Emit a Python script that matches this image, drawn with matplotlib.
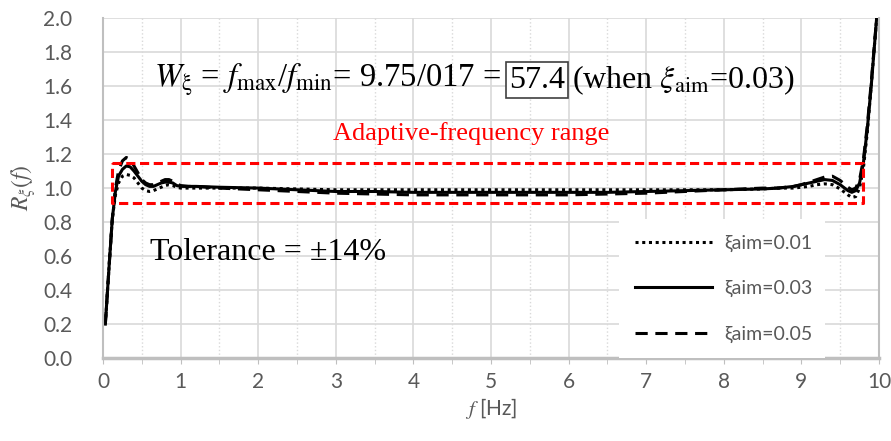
import matplotlib
import matplotlib.pyplot as plt
import numpy as np
from matplotlib.ticker import MultipleLocator

# ========== datos ==========
freq = [0.03, 0.08, 0.12, 0.16, 0.2, 0.25, 0.3, 0.35, 0.4, 0.45, 0.5, 0.55, 0.6, 0.65, 0.7,
        0.75, 0.8, 0.85, 0.9, 0.95, 1.0, 1.1, 1.2, 1.5, 2.0, 2.5, 3.0, 3.5, 4.0, 4.5,
        5.0, 5.5, 6.0, 6.5, 7.0, 7.5, 8.0, 8.5, 8.7, 8.9, 9.0, 9.1, 9.2, 9.3, 9.4,
        9.5, 9.6, 9.65, 9.7, 9.75, 9.8, 9.85, 9.9, 9.97]

r_001 = [0.2, 0.55, 0.82, 0.96, 1.03, 1.07, 1.08, 1.075, 1.06, 1.03, 1.0, 0.985, 0.98, 0.985, 0.995,
         1.005, 1.015, 1.02, 1.015, 1.005, 1.0, 1.0, 1.0, 1.0, 1.0, 0.995, 0.99, 0.99, 0.99, 0.99,
         0.99, 0.99, 0.99, 0.99, 0.99, 0.99, 0.99, 0.995, 1.0, 1.0, 1.005, 1.01, 1.02, 1.025, 1.02,
         0.995, 0.96, 0.945, 0.95, 1.0, 1.12, 1.33, 1.6, 2.0]
r_003 = [0.2, 0.55, 0.82, 0.98, 1.07, 1.11, 1.13, 1.125, 1.1, 1.07, 1.04, 1.02, 1.01, 1.01, 1.02,
         1.03, 1.035, 1.035, 1.03, 1.015, 1.01, 1.01, 1.01, 1.005, 1.0, 0.99, 0.98, 0.98, 0.975, 0.975,
         0.975, 0.975, 0.975, 0.975, 0.98, 0.985, 0.99, 0.995, 1.0, 1.01, 1.02, 1.03, 1.04, 1.05, 1.045,
         1.02, 0.985, 0.975, 0.985, 1.03, 1.15, 1.35, 1.6, 2.0]
r_005 = [0.2, 0.55, 0.82, 1.0, 1.1, 1.16, 1.18, 1.17, 1.13, 1.09, 1.05, 1.03, 1.02, 1.02, 1.03,
         1.04, 1.05, 1.05, 1.04, 1.025, 1.015, 1.01, 1.01, 1.0, 0.99, 0.98, 0.97, 0.965, 0.96, 0.96,
         0.96, 0.96, 0.96, 0.965, 0.97, 0.98, 0.99, 1.0, 1.0, 1.01, 1.02, 1.035, 1.05, 1.065, 1.07,
         1.045, 1.005, 0.99, 1.0, 1.05, 1.17, 1.37, 1.62, 2.0]

labels = ['ξaim=0.01', 'ξaim=0.03', 'ξaim=0.05']

# rango adaptativo (caja roja)
range_f = [0.12, 9.8]
range_r = [0.91, 1.15]

gray = '#595959'
grid_c = '#d9d9d9'

plt.rcParams['font.family'] = ['Lato', 'DejaVu Sans']
plt.rcParams['mathtext.fontset'] = 'stix'

fig = plt.figure(figsize=(8.91, 4.41), dpi=100)
ax = fig.add_axes([0.1156, 0.188, 0.8709, 0.771])

ax.plot(freq, r_001, color='black', lw=2.2, ls=(0, (1, 1.2)), label=labels[0])
ax.plot(freq, r_003, color='black', lw=2.2, ls='-', label=labels[1])
ax.plot(freq, r_005, color='black', lw=2.2, ls=(0, (4, 2.5)), label=labels[2])

ax.plot([range_f[0], range_f[1], range_f[1], range_f[0], range_f[0]],
        [range_r[1], range_r[1], range_r[0], range_r[0], range_r[1]],
        color='#ff0000', lw=2.2, ls=(0, (3, 1.5)))

ax.set_xlim(0, 10)
ax.set_ylim(0, 2.0)
ax.xaxis.set_major_locator(MultipleLocator(1))
ax.xaxis.set_minor_locator(MultipleLocator(0.5))
ax.yaxis.set_major_locator(MultipleLocator(0.2))
ax.yaxis.set_major_formatter(matplotlib.ticker.FormatStrFormatter('%.1f'))

ax.grid(True, which='major', color=grid_c, lw=1.2)
ax.grid(True, which='minor', axis='x', color=grid_c, lw=1.0, ls=':')
ax.set_axisbelow(True)

for s in ['left', 'right', 'bottom']:
    ax.spines[s].set_color('#bfbfbf')
    ax.spines[s].set_linewidth(1.5)
ax.spines['top'].set_visible(False)
ax.spines['bottom'].set_linewidth(2.5)

ax.tick_params(axis='y', length=0, labelsize=15, labelcolor=gray, pad=22)
ax.tick_params(axis='x', which='both', length=4, color='#bfbfbf', labelsize=15, labelcolor=gray, pad=6)

ax.set_ylabel(r'$R_{\xi}(f)$', color=gray, fontsize=17, labelpad=4)
ax.set_xlabel(r'$f$ [Hz]', color=gray, fontsize=15, labelpad=3)

serif = ['Liberation Serif', 'DejaVu Serif']
ax.text(5.13, 1.635, r'$W_{\mathrm{\xi}}$ = $f_{\mathrm{max}}$/$f_{\mathrm{min}}$= 9.75/017 =',
        fontsize=23.5, family=serif, ha='right', va='center')
ax.text(5.59, 1.635, '57.4', fontsize=23, family=serif, ha='center', va='center',
        bbox=dict(boxstyle='square,pad=0.1', fc='white', ec='#404040', lw=1.2))
ax.text(6.05, 1.635, r'(when $\xi_{\mathrm{aim}}$=0.03)', fontsize=23, family=serif,
        ha='left', va='center')
ax.text(4.74, 1.32, 'Adaptive-frequency range', color='#ff0000', fontsize=19,
        family=serif, ha='center', va='center')
ax.text(0.6, 0.62, 'Tolerance = ±14%', fontsize=23, family=serif, ha='left', va='center')

leg = ax.legend(loc='lower left', bbox_to_anchor=(0.665, 0.0, 0.265, 0.395), mode='expand',
                frameon=True, fontsize=14, labelspacing=1.45, handlelength=4.0,
                borderpad=0.8, handletextpad=0.6, borderaxespad=0)
leg.get_frame().set_facecolor('white')
leg.get_frame().set_edgecolor('none')
leg.get_frame().set_alpha(1)
leg.get_frame().set_boxstyle('square', pad=0)
for t in leg.get_texts():
    t.set_color(gray)

plt.savefig('out.png', dpi=100)
